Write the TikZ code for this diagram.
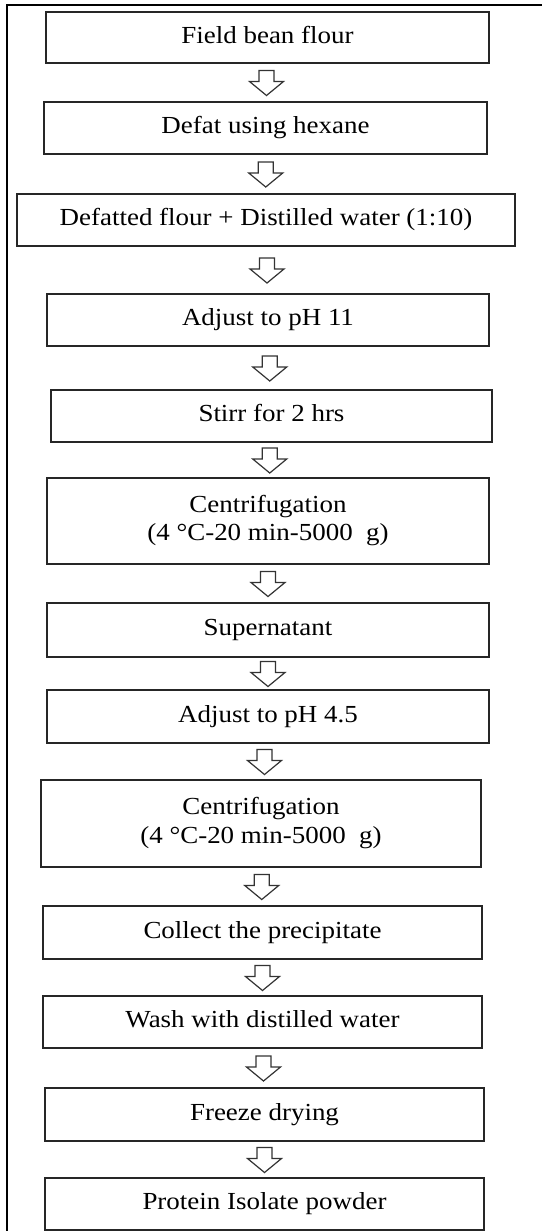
\documentclass[tikz,border=0pt]{standalone}
\usepackage{fontspec}
\setmainfont{Liberation Serif}
\usepackage{graphicx}
\usetikzlibrary{calc}
\newcommand\stxt[1]{\scalebox{1.1}[1]{\begin{tabular}{@{}c@{}}#1\end{tabular}}}
\newcommand\harrow[2]{%
  \draw[harrowstyle] let \p1=($(#1.south)!0.5!(#2.north)$) in
    (\x1-7.5pt,\y1+12pt) -- (\x1+7.5pt,\y1+12pt) -- (\x1+7.5pt,\y1+1pt)
    -- (\x1+17pt,\y1+1pt) -- (\x1,\y1-13pt) -- (\x1-17pt,\y1+1pt)
    -- (\x1-7.5pt,\y1+1pt) -- cycle;}
\tikzset{
  stepbox/.style={draw=black!85, line width=1.7pt, inner sep=0pt, anchor=center,
    font=\fontsize{24.5}{28.5}\selectfont},
  harrowstyle/.style={draw=black!80, line width=1.2pt, fill=white, line join=miter},
}
\begin{document}
\begin{tikzpicture}[x=1pt,y=1pt]
\useasboundingbox (0,0) rectangle (541,-1231);
\draw[line width=2pt] (7,-1240) -- (7,-5) -- (550,-5);
\node[stepbox, minimum width=443, minimum height=51] (b1) at (267.5,-37.5) {\stxt{Field bean flour}};
\node[stepbox, minimum width=443, minimum height=52] (b2) at (265.5,-128) {\stxt{Defat using hexane}};
\node[stepbox, minimum width=498, minimum height=52] (b3) at (266,-220) {\stxt{Defatted flour + Distilled water (1:10)}};
\node[stepbox, minimum width=442, minimum height=52] (b4) at (268,-320) {\stxt{Adjust to pH 11}};
\node[stepbox, minimum width=441, minimum height=52] (b5) at (271.5,-416) {\stxt{Stirr for 2 hrs}};
\node[stepbox, minimum width=442, minimum height=86] (b6) at (268,-521) {\stxt{Centrifugation\\(4 °C-20 min-5000\ \ g)}};
\node[stepbox, minimum width=442, minimum height=54] (b7) at (268,-630) {\stxt{Supernatant}};
\node[stepbox, minimum width=442, minimum height=53] (b8) at (268,-716.5) {\stxt{Adjust to pH 4.5}};
\node[stepbox, minimum width=440, minimum height=87] (b9) at (261,-823.5) {\stxt{Centrifugation\\(4 °C-20 min-5000\ \ g)}};
\node[stepbox, minimum width=439, minimum height=53] (b10) at (262.5,-932.5) {\stxt{Collect the precipitate}};
\node[stepbox, minimum width=439, minimum height=52] (b11) at (262.5,-1022) {\stxt{Wash with distilled water}};
\node[stepbox, minimum width=439, minimum height=53] (b12) at (264.5,-1114.5) {\stxt{Freeze drying}};
\node[stepbox, minimum width=439, minimum height=52] (b13) at (264.5,-1204) {\stxt{Protein Isolate powder}};
\harrow{b1}{b2}
\harrow{b2}{b3}
\harrow{b3}{b4}
\harrow{b4}{b5}
\harrow{b5}{b6}
\harrow{b6}{b7}
\harrow{b7}{b8}
\harrow{b8}{b9}
\harrow{b9}{b10}
\harrow{b10}{b11}
\harrow{b11}{b12}
\harrow{b12}{b13}
\end{tikzpicture}
\end{document}
